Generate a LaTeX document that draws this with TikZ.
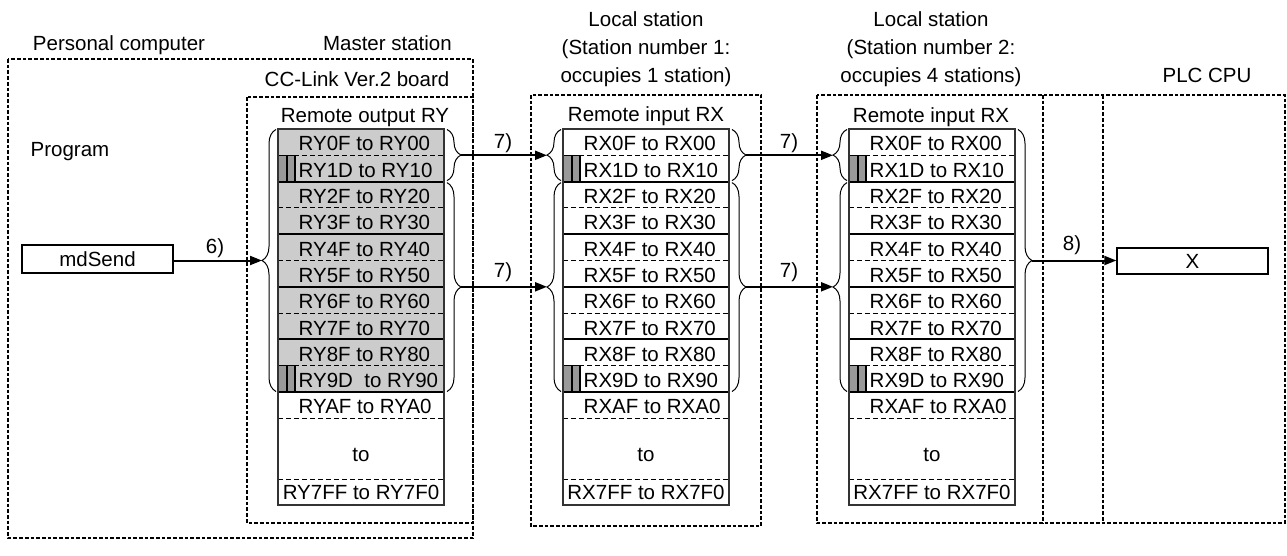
\documentclass[tikz,border=0pt]{standalone}
\usepackage{fontspec}
\setmainfont{Liberation Sans}
\usetikzlibrary{decorations.pathreplacing,arrows.meta}
\definecolor{rowgray}{gray}{0.8}
\definecolor{bargray}{gray}{0.6}
\tikzset{
  lbl/.style={font=\fontsize{20.5}{24}\selectfont, inner sep=0pt, text height=14.7pt, text depth=0pt},
  dotbox/.style={line width=2.2pt, dash pattern=on 3.7pt off 2pt},
  sepsolid/.style={line width=2pt},
  sepdash/.style={line width=1pt, dash pattern=on 5pt off 3pt},
  tabline/.style={line width=1.3pt, draw=black!80},
  barst/.style={line width=1.2pt, draw=black, fill=bargray},
  bracest/.style={decorate, decoration={brace, amplitude=14pt}, line width=1pt},
  arr/.style={line width=2pt, -{Triangle[length=12pt,width=9pt]}},
  regbox/.style={draw, line width=1.3pt, minimum height=28pt, inner sep=0pt, text height=14.7pt, text depth=0pt, font=\fontsize{20.5}{24}\selectfont},
}
% #1 name prefix, #2 left x, #3 letter, #4 extra space in row 9
\newcommand\regtable[4]{%
  \foreach \a/\b [count=\k from 0] in {0F/00,1D/10,2F/20,3F/30,4F/40,5F/50,6F/60,7F/70,8F/80,9D#4/90,AF/A0}{%
    \node[lbl, anchor=west] (#1t\k) at (#2+20.5, 143.6+26.3*\k) {R#3\a\ to R#3\b};
  }
  \foreach \k in {0,...,10}{%
    \ifodd\k
      \draw[sepsolid] (#2, 129+26.3*\k+26.3) -- (#2+166, 129+26.3*\k+26.3);
    \else
      \draw[sepdash] (#2, 129+26.3*\k+26.3) -- (#2+166, 129+26.3*\k+26.3);
    \fi
  }
  \draw[sepdash] (#2,479) -- (#2+166,479);
  \node[lbl] (#1to) at (#2+83, 454) {to};
  \node[lbl] (#1last) at (#2+83, 492.5) {R#37FF to R#37F0};
  \foreach \r in {1,9}{%
    \draw[barst] (#2+0.8, 129+26.3*\r) rectangle (#2+9, 129+26.3*\r+26.3);
    \draw[barst] (#2+9, 129+26.3*\r) rectangle (#2+17, 129+26.3*\r+26.3);
  }
  \draw[tabline] (#2,129) rectangle (#2+166,505);
}
\begin{document}
\begin{tikzpicture}[x=1pt,y=-1pt]
\useasboundingbox (0,0) rectangle (1287,555);

% dotted enclosures
\draw[dotbox] (8,59) rectangle (473,538);
\draw[dotbox] (247,97) rectangle (473,523);
\draw[dotbox] (531,95) rectangle (761,526);
\draw[dotbox] (817,95) rectangle (1285,523);
\draw[dotbox] (1043,95) -- (1043,523);
\draw[dotbox] (1103,95) -- (1103,523);

% headings
\node[lbl] (pc) at (119,43) {Personal computer};
\node[lbl, anchor=east] (ms) at (452,43) {Master station};
\node[lbl] (cc) at (357,79.5) {CC-Link Ver.2 board};
\node[lbl] (prog) at (70,149.5) {Program};
\node[lbl] (rout) at (365,115) {Remote output RY};

\node[lbl] (l1a) at (646,19.5) {Local station};
\node[lbl] (l1b) at (646,47.5) {(Station number 1:};
\node[lbl] (l1c) at (646,75.5) {occupies 1 station)};
\node[lbl] (rin1) at (646,114) {Remote input RX};

\node[lbl] (l2a) at (931,19.5) {Local station};
\node[lbl] (l2b) at (931,47.5) {(Station number 2:};
\node[lbl] (l2c) at (931,75.5) {occupies 4 stations)};
\node[lbl] (rin2) at (931,115) {Remote input RX};

\node[lbl] (plc) at (1207,75.5) {PLC CPU};

% tables
\fill[rowgray] (278,129) rectangle (444,392);
\regtable{m}{278}{Y}{\ }
\regtable{a}{563}{X}{}
\regtable{b}{849}{X}{}

% boxes
\node[regbox, minimum width=151pt] (mdsend) at (97.5,259) {mdSend};
\node[regbox, minimum width=151pt, minimum height=26pt] (xbox) at (1192.5,261) {X};

% braces: master
\draw[bracest] (276,391.5) -- (276,129.5);
\coordinate (mL) at (262,260.5);
\draw[bracest] (447,129.5) -- (447,180.6);
\coordinate (mR1) at (461,155.3);
\draw[bracest] (447,182.6) -- (447,391.5);
\coordinate (mR2) at (461,286.8);
% braces: local 1
\draw[bracest] (561,180.6) -- (561,129.5);
\coordinate (aL1) at (547,155.3);
\draw[bracest] (561,391.5) -- (561,182.6);
\coordinate (aL2) at (547,286.8);
\draw[bracest] (732,129.5) -- (732,180.6);
\coordinate (aR1) at (746,155.3);
\draw[bracest] (732,182.6) -- (732,391.5);
\coordinate (aR2) at (746,286.8);
% braces: local 2
\draw[bracest] (847,180.6) -- (847,129.5);
\coordinate (bL1) at (833,155.3);
\draw[bracest] (847,391.5) -- (847,182.6);
\coordinate (bL2) at (833,286.8);
\draw[bracest] (1018,129.5) -- (1018,391.5);
\coordinate (bR) at (1032,260.5);

% arrows
\draw[arr] (mdsend.east |- mL) -- (mL);
\draw[arr] (mR1) -- (aL1);
\draw[arr] (mR2) -- (aL2);
\draw[arr] (aR1) -- (bL1);
\draw[arr] (aR2) -- (bL2);
\draw[arr] (bR) -- (xbox.west |- bR);

% arrow labels
\node[lbl] (n6) at (215,246) {6)};
\node[lbl] (n7a) at (503,141) {7)};
\node[lbl] (n7b) at (503,270) {7)};
\node[lbl] (n7c) at (789,141) {7)};
\node[lbl] (n7d) at (789,270) {7)};
\node[lbl] (n8) at (1072,243) {8)};
\end{tikzpicture}
\end{document}
